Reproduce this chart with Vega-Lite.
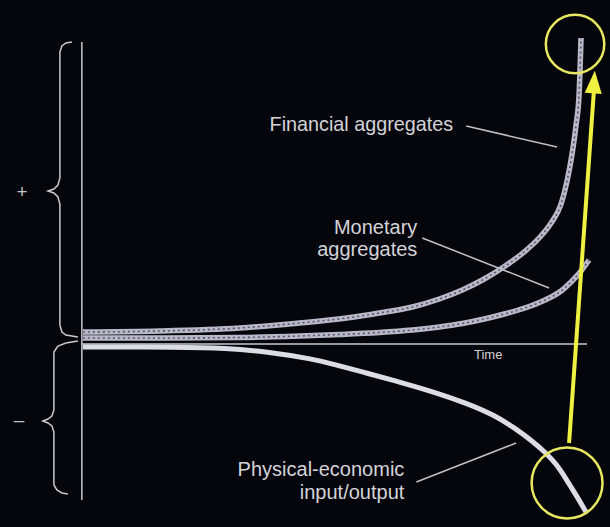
{
  "$schema": "https://vega.github.io/schema/vega-lite/v6.json",
  "width": 610,
  "height": 527,
  "autosize": {"type": "fit", "contains": "padding"},
  "padding": 0,
  "background": "#05050c",
  "config": {"view": {"stroke": null}, "axis": {"disable": true}},
  "datasets": {
    "curves": [
      {"s": "Financial", "x": 83, "y": 12}, {"s": "Financial", "x": 160, "y": 13}, {"s": "Financial", "x": 240, "y": 16}, {"s": "Financial", "x": 300, "y": 21}, {"s": "Financial", "x": 347, "y": 26}, {"s": "Financial", "x": 380, "y": 31}, {"s": "Financial", "x": 413, "y": 37}, {"s": "Financial", "x": 440, "y": 45}, {"s": "Financial", "x": 463, "y": 54}, {"s": "Financial", "x": 485, "y": 65}, {"s": "Financial", "x": 503, "y": 76}, {"s": "Financial", "x": 525, "y": 92}, {"s": "Financial", "x": 540, "y": 106}, {"s": "Financial", "x": 552, "y": 121}, {"s": "Financial", "x": 562, "y": 140}, {"s": "Financial", "x": 568, "y": 163}, {"s": "Financial", "x": 573, "y": 190}, {"s": "Financial", "x": 577, "y": 219}, {"s": "Financial", "x": 580, "y": 249}, {"s": "Financial", "x": 582, "y": 306},
      {"s": "Monetary", "x": 83, "y": 6}, {"s": "Monetary", "x": 160, "y": 6}, {"s": "Monetary", "x": 240, "y": 6.5}, {"s": "Monetary", "x": 300, "y": 8}, {"s": "Monetary", "x": 340, "y": 9.5}, {"s": "Monetary", "x": 380, "y": 11.5}, {"s": "Monetary", "x": 413, "y": 14}, {"s": "Monetary", "x": 440, "y": 17}, {"s": "Monetary", "x": 463, "y": 20.5}, {"s": "Monetary", "x": 485, "y": 25}, {"s": "Monetary", "x": 507, "y": 30.5}, {"s": "Monetary", "x": 530, "y": 37.5}, {"s": "Monetary", "x": 547, "y": 44.5}, {"s": "Monetary", "x": 562, "y": 53}, {"s": "Monetary", "x": 573, "y": 63}, {"s": "Monetary", "x": 582, "y": 73}, {"s": "Monetary", "x": 590, "y": 84},
      {"s": "Physical", "x": 83, "y": -3}, {"s": "Physical", "x": 180, "y": -3}, {"s": "Physical", "x": 225, "y": -4}, {"s": "Physical", "x": 270, "y": -8}, {"s": "Physical", "x": 313, "y": -15}, {"s": "Physical", "x": 333, "y": -20}, {"s": "Physical", "x": 367, "y": -29}, {"s": "Physical", "x": 400, "y": -38}, {"s": "Physical", "x": 433, "y": -47.5}, {"s": "Physical", "x": 467, "y": -59}, {"s": "Physical", "x": 495, "y": -71}, {"s": "Physical", "x": 517, "y": -85}, {"s": "Physical", "x": 533, "y": -97}, {"s": "Physical", "x": 547, "y": -109}, {"s": "Physical", "x": 558, "y": -121}, {"s": "Physical", "x": 567, "y": -135}, {"s": "Physical", "x": 577, "y": -151}, {"s": "Physical", "x": 587, "y": -168}
    ],
    "axes": [
      {"x": 82, "y": 302, "x2": 82, "y2": -156},
      {"x": 82, "y": 0, "x2": 588, "y2": 0}
    ],
    "leaders": [
      {"x": 467, "y": 218, "x2": 558, "y2": 197},
      {"x": 423, "y": 106, "x2": 550, "y2": 56},
      {"x": 417, "y": -138, "x2": 517, "y2": -99}
    ],
    "braces": [
      {"b": "plus", "i": 1, "x": 72, "y": 302}, {"b": "plus", "i": 2, "x": 66, "y": 301}, {"b": "plus", "i": 3, "x": 62, "y": 298}, {"b": "plus", "i": 4, "x": 60, "y": 292}, {"b": "plus", "i": 5, "x": 60, "y": 166}, {"b": "plus", "i": 6, "x": 58, "y": 159}, {"b": "plus", "i": 7, "x": 54, "y": 155}, {"b": "plus", "i": 8, "x": 48, "y": 153}, {"b": "plus", "i": 9, "x": 54, "y": 151}, {"b": "plus", "i": 10, "x": 58, "y": 147}, {"b": "plus", "i": 11, "x": 60, "y": 140}, {"b": "plus", "i": 12, "x": 60, "y": 19}, {"b": "plus", "i": 13, "x": 62, "y": 12}, {"b": "plus", "i": 14, "x": 66, "y": 9}, {"b": "plus", "i": 15, "x": 78, "y": 7},
      {"b": "minus", "i": 1, "x": 78, "y": 3}, {"b": "minus", "i": 2, "x": 66, "y": 1}, {"b": "minus", "i": 3, "x": 58, "y": -2}, {"b": "minus", "i": 4, "x": 54, "y": -8}, {"b": "minus", "i": 5, "x": 54, "y": -66}, {"b": "minus", "i": 6, "x": 52, "y": -72}, {"b": "minus", "i": 7, "x": 48, "y": -75}, {"b": "minus", "i": 8, "x": 43, "y": -77}, {"b": "minus", "i": 9, "x": 48, "y": -79}, {"b": "minus", "i": 10, "x": 52, "y": -82}, {"b": "minus", "i": 11, "x": 54, "y": -88}, {"b": "minus", "i": 12, "x": 54, "y": -141}, {"b": "minus", "i": 13, "x": 57, "y": -146}, {"b": "minus", "i": 14, "x": 62, "y": -149}, {"b": "minus", "i": 15, "x": 68, "y": -150}
    ],
    "textLeft": [
      {"t": "Financial aggregates", "x": 270, "y": 219}
    ],
    "textRight": [
      {"t": "Monetary", "x": 418, "y": 116},
      {"t": "aggregates", "x": 418, "y": 94},
      {"t": "Physical-economic", "x": 405, "y": -126},
      {"t": "input/output", "x": 405, "y": -149}
    ],
    "signs": [
      {"t": "+", "x": 22, "y": 152},
      {"t": "\u2013", "x": 19, "y": -76}
    ],
    "timeLabel": [{"t": "Time", "x": 489, "y": -11}],
    "circles": [
      {"c": "top", "x": 576, "y": 300},
      {"c": "bottom", "x": 568, "y": -139}
    ],
    "arrow": [{"x": 570, "y": -99, "x2": 595, "y2": 255}],
    "arrowHead": [{"x": 595, "y": 262}]
  },
  "encoding": {
    "x": {"field": "x", "type": "quantitative", "scale": {"domain": [0, 610], "nice": false, "zero": false}, "axis": null},
    "y": {"field": "y", "type": "quantitative", "scale": {"domain": [-183, 344], "nice": false, "zero": false}, "axis": null}
  },
  "layer": [
    {
      "data": {"name": "axes"},
      "mark": {"type": "rule", "color": "#c8c8d0", "strokeWidth": 1.5},
      "encoding": {"x2": {"field": "x2"}, "y2": {"field": "y2"}}
    },
    {
      "data": {"name": "braces"},
      "mark": {"type": "line", "color": "#c8c8d0", "strokeWidth": 1.5, "interpolate": "linear"},
      "encoding": {"detail": {"field": "b"}, "order": {"field": "i", "type": "quantitative"}}
    },
    {
      "data": {"name": "curves"},
      "transform": [{"filter": "datum.s !== 'Physical'"}],
      "mark": {"type": "line", "color": "#b8b8c8", "strokeWidth": 5.5, "interpolate": "monotone"},
      "encoding": {"detail": {"field": "s"}}
    },
    {
      "data": {"name": "curves"},
      "transform": [{"filter": "datum.s !== 'Physical'"}],
      "mark": {"type": "line", "color": "#55556a", "strokeWidth": 1.6, "strokeDash": [2, 3], "interpolate": "monotone"},
      "encoding": {"detail": {"field": "s"}}
    },
    {
      "data": {"name": "curves"},
      "transform": [{"filter": "datum.s === 'Physical'"}],
      "mark": {"type": "line", "color": "#dcdce6", "strokeWidth": 5, "interpolate": "basis"},
      "encoding": {"detail": {"field": "s"}}
    },
    {
      "data": {"name": "leaders"},
      "mark": {"type": "rule", "color": "#c0c0c8", "strokeWidth": 1.5},
      "encoding": {"x2": {"field": "x2"}, "y2": {"field": "y2"}}
    },
    {
      "data": {"name": "textLeft"},
      "mark": {"type": "text", "align": "left", "baseline": "middle", "font": "Liberation Sans", "fontSize": 19.8, "color": "#d4d4d8"},
      "encoding": {"text": {"field": "t"}}
    },
    {
      "data": {"name": "textRight"},
      "mark": {"type": "text", "align": "right", "baseline": "middle", "font": "Liberation Sans", "fontSize": 20, "color": "#d4d4d8"},
      "encoding": {"text": {"field": "t"}}
    },
    {
      "data": {"name": "signs"},
      "mark": {"type": "text", "align": "center", "baseline": "middle", "font": "Liberation Sans", "fontSize": 19, "color": "#c0c0c8"},
      "encoding": {"text": {"field": "t"}}
    },
    {
      "data": {"name": "timeLabel"},
      "mark": {"type": "text", "align": "center", "baseline": "middle", "font": "Liberation Sans", "fontSize": 13, "color": "#d4d4d8"},
      "encoding": {"text": {"field": "t"}}
    },
    {
      "data": {"name": "arrow"},
      "mark": {"type": "rule", "color": "#f0f040", "strokeWidth": 4},
      "encoding": {"x2": {"field": "x2"}, "y2": {"field": "y2"}}
    },
    {
      "data": {"name": "arrowHead"},
      "mark": {"type": "point", "shape": "M0,-1L0.75,1L-0.75,1Z", "filled": true, "color": "#f0f040", "opacity": 1, "size": 520, "angle": 4}
    },
    {
      "data": {"name": "circles"},
      "transform": [{"filter": "datum.c === 'top'"}],
      "mark": {"type": "point", "shape": "circle", "filled": false, "color": "#e8e860", "opacity": 1, "strokeWidth": 2.5, "size": 3421}
    },
    {
      "data": {"name": "circles"},
      "transform": [{"filter": "datum.c === 'bottom'"}],
      "mark": {"type": "point", "shape": "circle", "filled": false, "color": "#e8e860", "opacity": 1, "strokeWidth": 2.5, "size": 5027}
    }
  ]
}
